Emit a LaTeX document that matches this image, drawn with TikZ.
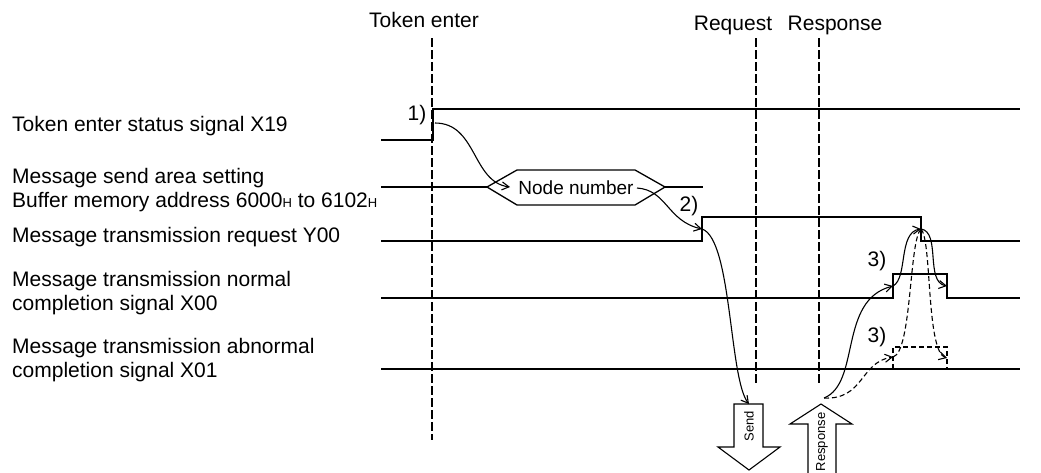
\documentclass[tikz,border=0pt]{standalone}
\usepackage{fontspec}
\setmainfont{Liberation Sans}
\usetikzlibrary{arrows.meta}
\newcommand{\hexsuf}{{\fontsize{13}{13}\selectfont H}}

\begin{document}
\begin{tikzpicture}[x=1pt,y=-1pt,>={Straight Barb[length=7pt,width=8pt]}]
  \tikzstyle{siglabel}=[anchor=west,align=left,inner sep=0pt,font=\fontsize{21}{23.5}\selectfont]
  \tikzstyle{toplabel}=[inner sep=0pt,font=\fontsize{21}{23.5}\selectfont]
  \tikzstyle{sig}=[line width=1.3pt]
  \tikzstyle{marker}=[dash pattern=on 9pt off 3pt,line width=1.6pt]
  \tikzstyle{flow}=[->,line width=1.1pt]
  \tikzstyle{failflow}=[line width=1.1pt,dash pattern=on 5pt off 3pt]
  \tikzstyle{bigarrow}=[line width=1.1pt,fill=white]
  \useasboundingbox (0,0) rectangle (1041,472);

  % signal names
  \node[siglabel] (x19) at (12,126) {Token enter status signal X19};
  \node[siglabel] (area) at (12,190) {Message send area setting\\Buffer memory address 6000\hexsuf{} to 6102\hexsuf};
  \node[siglabel] (y00) at (12,237) {Message transmission request Y00};
  \node[siglabel] (x00) at (12,293) {Message transmission normal\\completion signal X00};
  \node[siglabel] (x01) at (12,360) {Message transmission abnormal\\completion signal X01};

  % timing markers
  \node[toplabel] (tok) at (424,20) {Token enter};
  \node[toplabel] (req) at (733,25) {Request};
  \node[toplabel] (resp) at (835,25) {Response};
  \draw[marker] (432,38) -- (432,440);
  \draw[marker] (756,38) -- (756,385);
  \draw[marker] (819,38) -- (819,385);

  % waveforms
  \draw[sig] (381,140) -- (433,140) -- (433,109) -- (1020,109);
  \draw[sig] (381,187) -- (487,187);
  \draw[sig] (665,187) -- (703,187);
  \draw[sig] (487,187) -- (517,170) -- (635,170) -- (665,187) -- (635,205) -- (517,205) -- cycle;
  \node[toplabel] (nodenum) at (576,188) {\fontsize{19}{19}\selectfont Node number};
  \draw[sig] (381,241) -- (702,241) -- (702,217) -- (921,217) -- (921,241) -- (1020,241);
  \draw[sig] (381,298) -- (893,298) -- (893,274) -- (947,274) -- (947,298) -- (1020,298);
  \draw[line width=2.2pt] (381,369) -- (1020,369);
  \draw[failflow] (893,369) -- (893,347) -- (947,347) -- (947,369);

  % send / response arrows
  \draw[bigarrow] (734,404) -- (763,404) -- (763,447) -- (780,447) -- (749,470) -- (718,447) -- (734,447) -- cycle;
  \node[rotate=90,inner sep=0pt,font=\fontsize{13}{13}\selectfont] (send) at (749,426) {Send};
  \draw[bigarrow] (808,490) -- (808,424) -- (790,424) -- (821,404) -- (852,424) -- (836,424) -- (836,490);
  \node[rotate=90,inner sep=0pt,font=\fontsize{13}{13}\selectfont] (answer) at (822,442) {Response};

  % event points
  \coordinate (x19up) at (435,123);
  \coordinate (nnin) at (510,187);
  \coordinate (nnout) at (637,188);
  \coordinate (y00up) at (702,229);
  \coordinate (sendtop) at (749,404);
  \coordinate (respout) at (824,398);
  \coordinate (x00up) at (893,286);
  \coordinate (y00dn) at (921,229);
  \coordinate (x00dn) at (947,286);
  \coordinate (x01up) at (893,357);
  \coordinate (x01dn) at (947,358);

  \node[toplabel] (n1) at (417,115) {1)};
  \node[toplabel] (n2) at (689,206) {2)};
  \node[toplabel] (n3a) at (877,261) {3)};
  \node[toplabel] (n3b) at (877,337) {3)};

  % handshake
  \draw[flow] (x19up) .. controls +(42,0) and +(-38,-5) .. (nnin);
  \draw[flow] (nnout) .. controls +(30,2) and +(-35,-8) .. (y00up);
  \draw[flow] (y00up) .. controls +(30,10) and +(-20,-25) .. (sendtop);
  \draw[flow] (respout) .. controls +(37,-15) and +(-55,14) .. (x00up);
  \draw[flow] (x00up) .. controls +(15,-8) and +(-23,3) .. (y00dn);
  \draw[flow] (y00dn) .. controls +(20,3) and +(-22,-4) .. (x00dn);
  \draw[failflow,->] (respout) .. controls +(40,2) and +(-33,5) .. (x01up);
  \draw[failflow] (x01up) .. controls +(19,-5) and +(-12,11) .. (y00dn);
  \draw[failflow,->] (y00dn) .. controls +(11,11) and +(-21,-6) .. (x01dn);
\end{tikzpicture}
\end{document}
